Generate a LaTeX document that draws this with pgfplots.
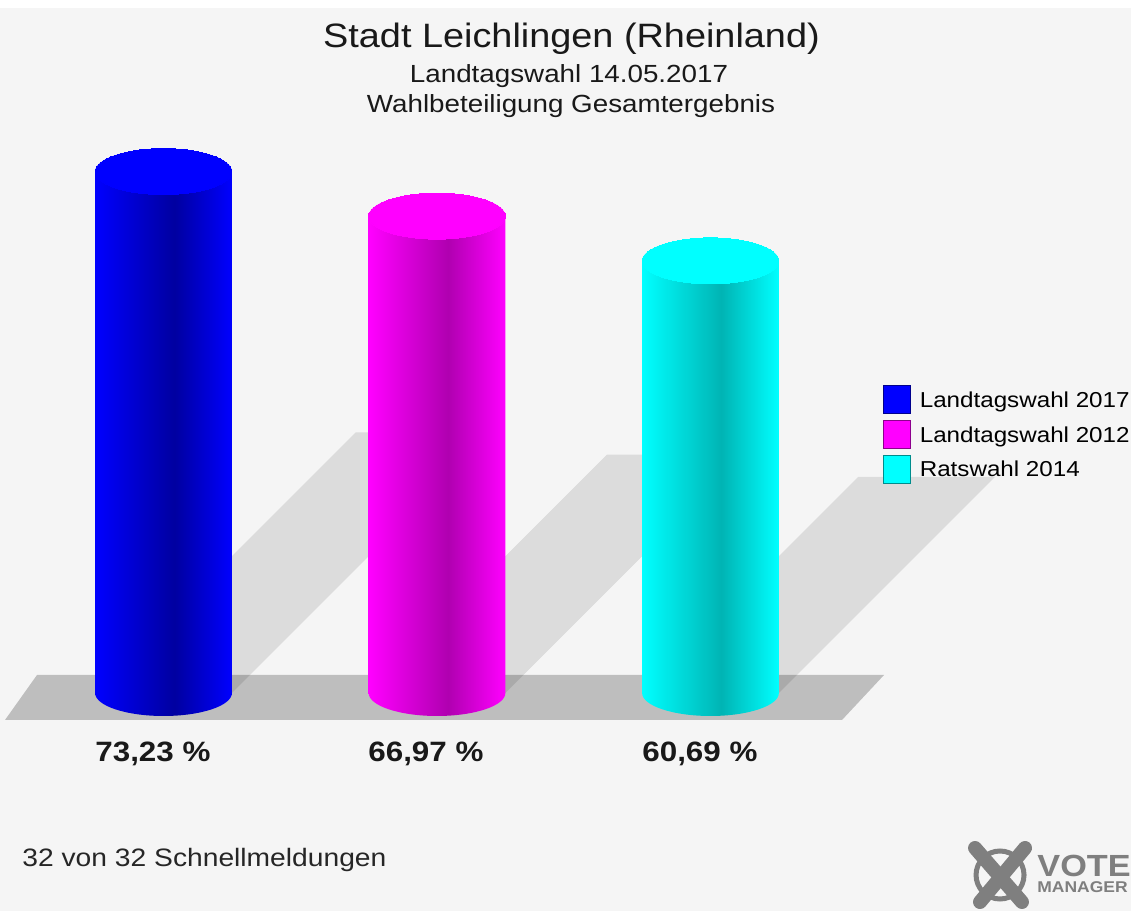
\documentclass[border=0pt]{standalone}
\usepackage{fontspec}
\setmainfont{Liberation Sans}[FakeStretch=1.12]
\usepackage{pgfplots}
\pgfplotsset{compat=1.18}

\definecolor{bg}{HTML}{F5F5F5}
\definecolor{floorc}{HTML}{BEBEBE}
\definecolor{cblue}{HTML}{0000FF}
\definecolor{cblued}{HTML}{0000A0}
\definecolor{cmag}{HTML}{FF00FF}
\definecolor{cmagd}{HTML}{B000B0}
\definecolor{ccyan}{HTML}{00FFFF}
\definecolor{ccyand}{HTML}{00B4B4}
\definecolor{logo}{HTML}{7F7F7F}

\pgfdeclarehorizontalshading{cylblue}{100bp}{color(0bp)=(cblue); color(25bp)=(cblue); color(54bp)=(cblued); color(75bp)=(cblue); color(100bp)=(cblue)}
\pgfdeclarehorizontalshading{cylmag}{100bp}{color(0bp)=(cmag); color(25bp)=(cmag); color(54bp)=(cmagd); color(75bp)=(cmag); color(100bp)=(cmag)}
\pgfdeclarehorizontalshading{cylcyan}{100bp}{color(0bp)=(ccyan); color(25bp)=(ccyan); color(54bp)=(ccyand); color(75bp)=(ccyan); color(100bp)=(ccyan)}

\begin{document}
\begin{tikzpicture}
\begin{axis}[
  width=565.5pt, height=455.5pt, scale only axis,
  xmin=-0.5978, xmax=3.5375, ymin=-30.618, ymax=97.331,
  axis lines=none, ticks=none, clip=false,
  legend cell align=left,
  legend image code/.code={\draw[#1] (0pt,-7pt) rectangle (13.5pt,7pt);},
  legend style={at={(rel axis cs:0.78073,0.57739)}, anchor=north west,
    draw=none, fill=none, inner sep=0pt, outer sep=0pt,
    row sep=3pt, column sep=4.5pt,
    font=\fontsize{10.8}{12}\selectfont,
    nodes={inner sep=0pt, text depth=0pt}},
]
% background
\fill[white] (rel axis cs:0,0) rectangle (rel axis cs:1,1);
\fill[bg] (rel axis cs:0,0) rectangle (rel axis cs:1,0.99122);

% floor
\addplot[fill=floorc, draw=none, forget plot] coordinates {(-0.5795,-3.792) (-0.4625,2.528) (2.6344,2.528) (2.4808,-3.792)} -- cycle;

% shadows
\addplot[fill=black, fill opacity=0.1, draw=none, forget plot] coordinates {(-0.25,0) (0.7032,36.615) (1.2032,36.615) (0.25,0)} -- cycle;
\addplot[fill=black, fill opacity=0.1, draw=none, forget plot] coordinates {(0.75,0) (1.6217,33.485) (2.1217,33.485) (1.25,0)} -- cycle;
\addplot[fill=black, fill opacity=0.1, draw=none, forget plot] coordinates {(1.75,0) (2.5399,30.345) (3.0399,30.345) (2.25,0)} -- cycle;

% cylinders
\addplot[draw opacity=0, shade, shading=cylblue, forget plot] coordinates {(-0.25,73.23) (-0.25,0)} arc[start angle=180, end angle=360, x radius=34.19pt, y radius=11.5pt] -- (axis cs:0.25,73.23) -- cycle;
\addplot[color=cblue, only marks, mark=*, mark size=34.19pt, mark options={yscale=0.3364, fill=cblue, draw=cblue, line width=0pt}, forget plot] coordinates {(0,73.23)};

\addplot[draw opacity=0, shade, shading=cylmag, forget plot] coordinates {(0.75,66.97) (0.75,0)} arc[start angle=180, end angle=360, x radius=34.19pt, y radius=11.5pt] -- (axis cs:1.25,66.97) -- cycle;
\addplot[color=cmag, only marks, mark=*, mark size=34.19pt, mark options={yscale=0.3364, fill=cmag, draw=cmag, line width=0pt}, forget plot] coordinates {(1,66.97)};

\addplot[draw opacity=0, shade, shading=cylcyan, forget plot] coordinates {(1.75,60.69) (1.75,0)} arc[start angle=180, end angle=360, x radius=34.19pt, y radius=11.5pt] -- (axis cs:2.25,60.69) -- cycle;
\addplot[color=ccyan, only marks, mark=*, mark size=34.19pt, mark options={yscale=0.3364, fill=ccyan, draw=ccyan, line width=0pt}, forget plot] coordinates {(2,60.69)};

% legend
\addlegendimage{fill=cblue, draw=cblue!55!black}
\addlegendentry{Landtagswahl 2017}
\addlegendimage{fill=cmag, draw=cmag!55!black}
\addlegendentry{Landtagswahl 2012}
\addlegendimage{fill=ccyan, draw=ccyan!55!black}
\addlegendentry{Ratswahl 2014}

% titles
\node[anchor=base, inner sep=0pt, text=black!90, font=\fontsize{16.9}{20}\selectfont] at (rel axis cs:0.5053,0.94731) {Stadt Leichlingen (Rheinland)};
\node[anchor=base, inner sep=0pt, text=black!90, font=\fontsize{12.4}{15}\selectfont] at (rel axis cs:0.5031,0.90889) {Landtagswahl 14.05.2017};
\node[anchor=base, inner sep=0pt, text=black!90, font=\fontsize{12.4}{15}\selectfont] at (rel axis cs:0.5049,0.87596) {Wahlbeteiligung Gesamtergebnis};

% value labels
\node[anchor=base west, inner sep=0pt, text=black!90, font=\bfseries\fontsize{14}{17}\selectfont] at (rel axis cs:0.0840,0.16356) {73,23 \%};
\node[anchor=base west, inner sep=0pt, text=black!90, font=\bfseries\fontsize{14}{17}\selectfont] at (rel axis cs:0.32538,0.16356) {66,97 \%};
\node[anchor=base west, inner sep=0pt, text=black!90, font=\bfseries\fontsize{14}{17}\selectfont] at (rel axis cs:0.56764,0.16356) {60,69 \%};

% footer
\node[anchor=base west, inner sep=0pt, text=black!85, font=\fontsize{12.6}{15}\selectfont] at (rel axis cs:0.01945,0.04940) {32 von 32 Schnellmeldungen};

% logo
\draw[logo, line width=2.5pt] (rel axis cs:0.8842,0.03952) circle[radius=12pt];
\draw[logo, line width=7pt, line cap=round] (rel axis cs:0.8665,0.00988) -- (rel axis cs:0.9063,0.06916);
\draw[logo, line width=7pt, line cap=round] (rel axis cs:0.8621,0.06916) -- (rel axis cs:0.9036,0.00988);
\node[anchor=base west, inner sep=0pt, text=logo, font=\bfseries\fontsize{15.3}{17}\selectfont] at (rel axis cs:0.9169,0.03732) {VOTE};
\node[anchor=base west, inner sep=0pt, text=logo, font=\bfseries\fontsize{7.8}{9}\selectfont] at (rel axis cs:0.9169,0.01976) {MANAGER};
\end{axis}
\end{tikzpicture}
\end{document}
